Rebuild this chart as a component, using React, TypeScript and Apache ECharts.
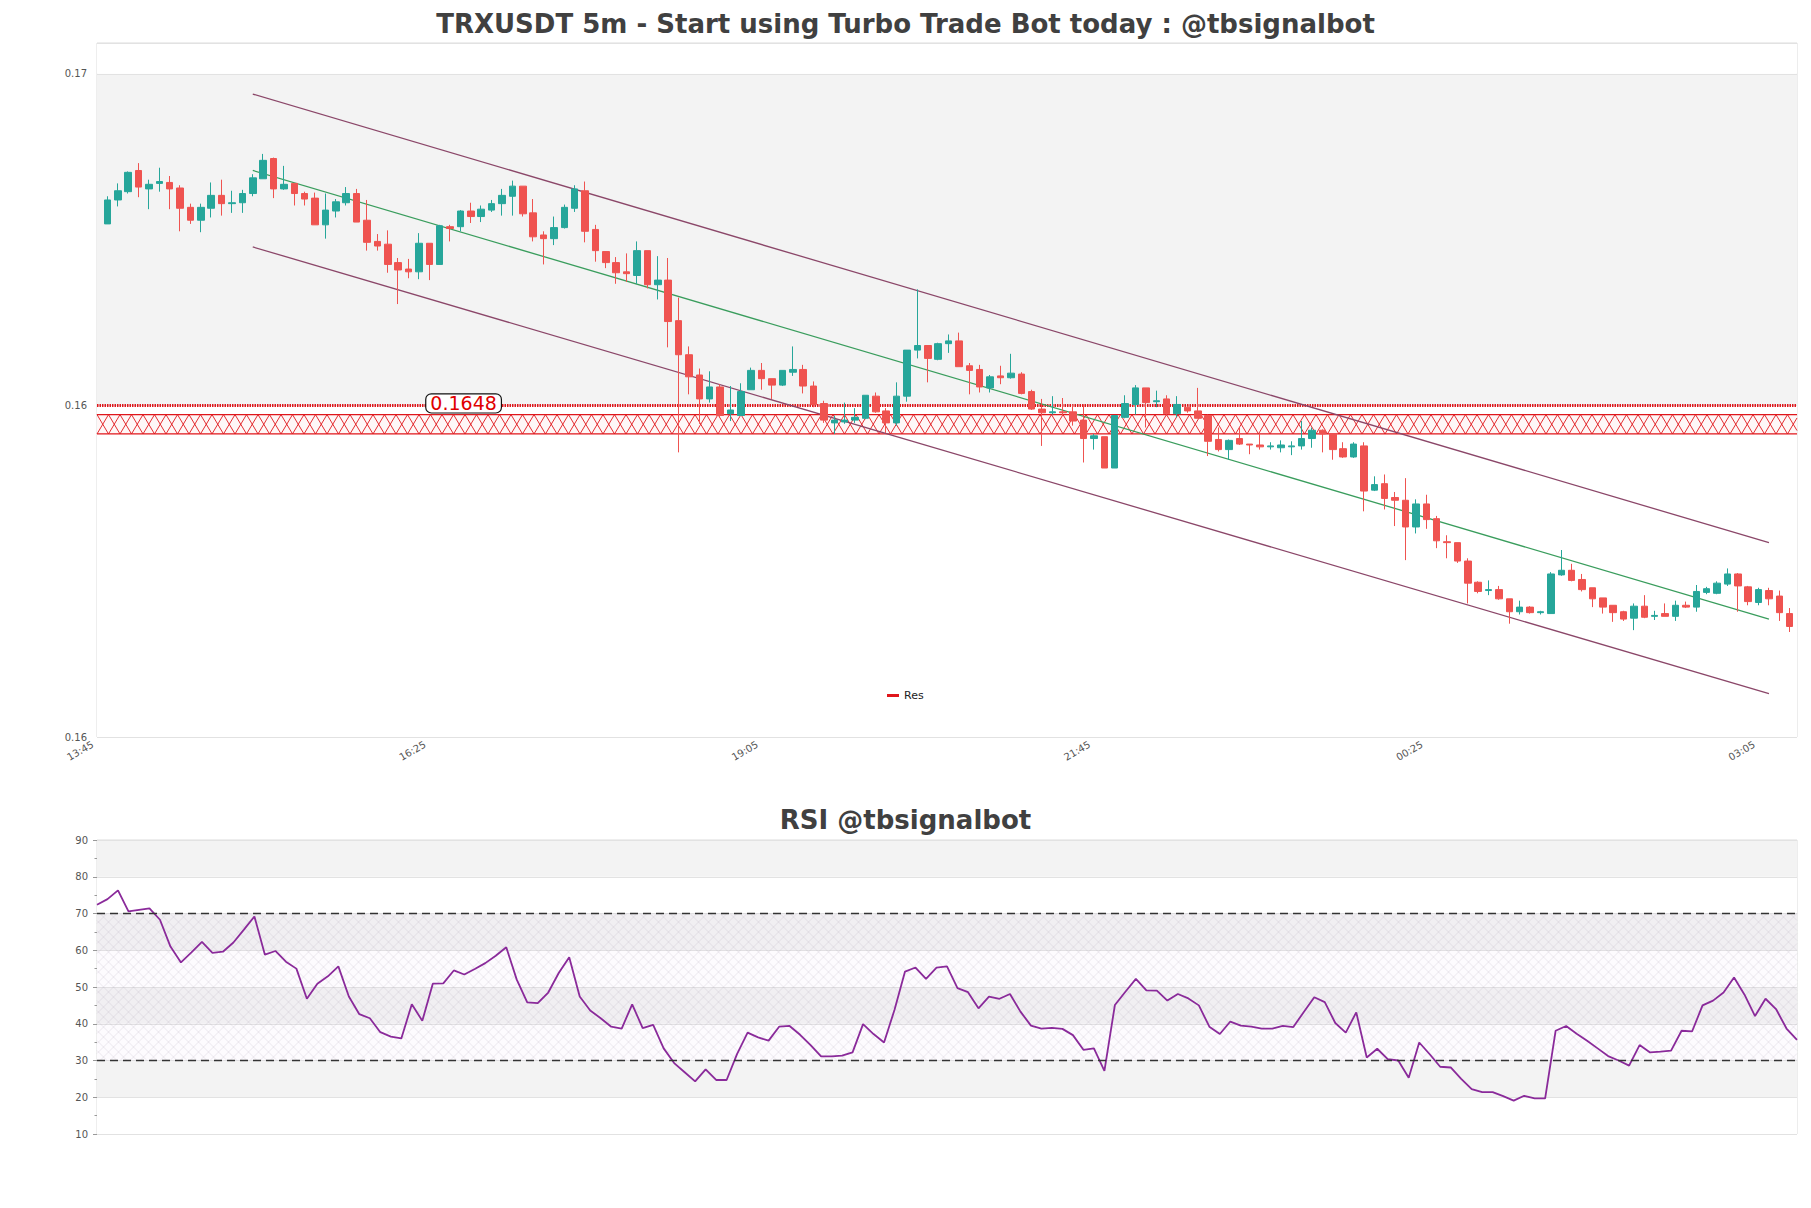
import React, { useEffect, useRef } from 'react';
import * as echarts from 'echarts';

// ---- data ----
const mainTitle = 'TRXUSDT 5m - Start using Turbo Trade Bot today : @tbsignalbot';
const rsiTitle = 'RSI @tbsignalbot';

const xTickLabels = ['13:45', '16:25', '19:05', '21:45', '00:25', '03:05'];
const xTickStep = 32; // candles between labelled ticks
const xMax = 163.7;

const yTickValues = [0.1612, 0.1648, 0.1684];
const yTickLabels = ['0.16', '0.16', '0.17'];
const yMin = 0.1612;
const yMax = 0.168734;
const yInterval = 0.0036;

// [open, close, low, high]
const candles: number[][] = [
  [0.16677, 0.16703, 0.16677, 0.16707],
  [0.16703, 0.16713, 0.16696, 0.16721],
  [0.16712, 0.16733, 0.16710, 0.16734],
  [0.16735, 0.16717, 0.16706, 0.16743],
  [0.16715, 0.16720, 0.16693, 0.16725],
  [0.16721, 0.16723, 0.16712, 0.16738],
  [0.16722, 0.16715, 0.16693, 0.16729],
  [0.16716, 0.16694, 0.16669, 0.16719],
  [0.16695, 0.16681, 0.16677, 0.16699],
  [0.16681, 0.16695, 0.16668, 0.16699],
  [0.16694, 0.16708, 0.16684, 0.16722],
  [0.16708, 0.16699, 0.16686, 0.16725],
  [0.16699, 0.16700, 0.16689, 0.16713],
  [0.16700, 0.16710, 0.16689, 0.16714],
  [0.16710, 0.16727, 0.16707, 0.16731],
  [0.16726, 0.16746, 0.16726, 0.16753],
  [0.16748, 0.16715, 0.16705, 0.16749],
  [0.16715, 0.16720, 0.16714, 0.16740],
  [0.16721, 0.16710, 0.16697, 0.16721],
  [0.16710, 0.16704, 0.16697, 0.16712],
  [0.16705, 0.16676, 0.16676, 0.16711],
  [0.16676, 0.16692, 0.16661, 0.16710],
  [0.16691, 0.16701, 0.16684, 0.16704],
  [0.16700, 0.16710, 0.16697, 0.16717],
  [0.16710, 0.16679, 0.16679, 0.16715],
  [0.16681, 0.16657, 0.16648, 0.16703],
  [0.16658, 0.16653, 0.16648, 0.16666],
  [0.16655, 0.16633, 0.16624, 0.16670],
  [0.16635, 0.16627, 0.16590, 0.16640],
  [0.16628, 0.16625, 0.16618, 0.16639],
  [0.16625, 0.16656, 0.16617, 0.16667],
  [0.16656, 0.16633, 0.16616, 0.16656],
  [0.16633, 0.16675, 0.16633, 0.16676],
  [0.16674, 0.16672, 0.16658, 0.16676],
  [0.16674, 0.16691, 0.16669, 0.16692],
  [0.16691, 0.16685, 0.16678, 0.16700],
  [0.16685, 0.16693, 0.16679, 0.16697],
  [0.16692, 0.16699, 0.16690, 0.16703],
  [0.16699, 0.16708, 0.16686, 0.16715],
  [0.16707, 0.16718, 0.16686, 0.16724],
  [0.16718, 0.16688, 0.16685, 0.16718],
  [0.16689, 0.16663, 0.16658, 0.16704],
  [0.16665, 0.16661, 0.16633, 0.16669],
  [0.16661, 0.16673, 0.16654, 0.16685],
  [0.16673, 0.16695, 0.16672, 0.16698],
  [0.16694, 0.16715, 0.16690, 0.16719],
  [0.16713, 0.16669, 0.16657, 0.16723],
  [0.16671, 0.16648, 0.16636, 0.16676],
  [0.16647, 0.16635, 0.16629, 0.16647],
  [0.16635, 0.16624, 0.16612, 0.16641],
  [0.16625, 0.16623, 0.16614, 0.16645],
  [0.16621, 0.16648, 0.16612, 0.16658],
  [0.16648, 0.16611, 0.16607, 0.16648],
  [0.16611, 0.16616, 0.16595, 0.16642],
  [0.16616, 0.16571, 0.16543, 0.16640],
  [0.16572, 0.16535, 0.16429, 0.16597],
  [0.16535, 0.16511, 0.16492, 0.16544],
  [0.16513, 0.16487, 0.16460, 0.16520],
  [0.16487, 0.16500, 0.16483, 0.16517],
  [0.16500, 0.16469, 0.16467, 0.16503],
  [0.16471, 0.16475, 0.16463, 0.16501],
  [0.16469, 0.16495, 0.16469, 0.16504],
  [0.16497, 0.16518, 0.16497, 0.16521],
  [0.16518, 0.16509, 0.16497, 0.16526],
  [0.16509, 0.16502, 0.16487, 0.16509],
  [0.16502, 0.16518, 0.16501, 0.16518],
  [0.16516, 0.16519, 0.16512, 0.16544],
  [0.16519, 0.16501, 0.16493, 0.16524],
  [0.16501, 0.16481, 0.16478, 0.16506],
  [0.16482, 0.16464, 0.16461, 0.16485],
  [0.16461, 0.16464, 0.16449, 0.16469],
  [0.16462, 0.16464, 0.16460, 0.16483],
  [0.16464, 0.16467, 0.16461, 0.16477],
  [0.16466, 0.16491, 0.16465, 0.16491],
  [0.16490, 0.16473, 0.16472, 0.16494],
  [0.16474, 0.16461, 0.16450, 0.16477],
  [0.16461, 0.16490, 0.16458, 0.16505],
  [0.16490, 0.16540, 0.16484, 0.16540],
  [0.16540, 0.16545, 0.16531, 0.16606],
  [0.16545, 0.16531, 0.16505, 0.16545],
  [0.16530, 0.16547, 0.16529, 0.16548],
  [0.16547, 0.16550, 0.16537, 0.16557],
  [0.16550, 0.16522, 0.16522, 0.16559],
  [0.16523, 0.16518, 0.16492, 0.16526],
  [0.16519, 0.16500, 0.16494, 0.16524],
  [0.16499, 0.16511, 0.16494, 0.16513],
  [0.16512, 0.16510, 0.16503, 0.16523],
  [0.16510, 0.16515, 0.16509, 0.16536],
  [0.16514, 0.16493, 0.16492, 0.16516],
  [0.16495, 0.16476, 0.16475, 0.16497],
  [0.16476, 0.16472, 0.16436, 0.16487],
  [0.16472, 0.16473, 0.16470, 0.16490],
  [0.16473, 0.16472, 0.16469, 0.16488],
  [0.16473, 0.16463, 0.16458, 0.16481],
  [0.16464, 0.16444, 0.16418, 0.16481],
  [0.16444, 0.16447, 0.16432, 0.16449],
  [0.16446, 0.16412, 0.16412, 0.16446],
  [0.16412, 0.16469, 0.16412, 0.16469],
  [0.16467, 0.16482, 0.16466, 0.16491],
  [0.16481, 0.16499, 0.16470, 0.16502],
  [0.16499, 0.16483, 0.16456, 0.16499],
  [0.16484, 0.16485, 0.16478, 0.16496],
  [0.16487, 0.16471, 0.16470, 0.16491],
  [0.16471, 0.16481, 0.16467, 0.16490],
  [0.16478, 0.16474, 0.16472, 0.16479],
  [0.16474, 0.16466, 0.16466, 0.16499],
  [0.16469, 0.16441, 0.16425, 0.16470],
  [0.16443, 0.16432, 0.16430, 0.16456],
  [0.16432, 0.16442, 0.16421, 0.16443],
  [0.16444, 0.16438, 0.16437, 0.16456],
  [0.16438, 0.16437, 0.16427, 0.16438],
  [0.16437, 0.16435, 0.16432, 0.16450],
  [0.16435, 0.16436, 0.16432, 0.16440],
  [0.16434, 0.16437, 0.16429, 0.16442],
  [0.16435, 0.16436, 0.16426, 0.16441],
  [0.16436, 0.16444, 0.16432, 0.16463],
  [0.16444, 0.16453, 0.16434, 0.16456],
  [0.16453, 0.16449, 0.16429, 0.16454],
  [0.16449, 0.16432, 0.16421, 0.16449],
  [0.16433, 0.16424, 0.16423, 0.16440],
  [0.16424, 0.16438, 0.16423, 0.16440],
  [0.16436, 0.16387, 0.16365, 0.16440],
  [0.16388, 0.16394, 0.16387, 0.16403],
  [0.16395, 0.16379, 0.16367, 0.16405],
  [0.16380, 0.16377, 0.16349, 0.16386],
  [0.16377, 0.16348, 0.16312, 0.16401],
  [0.16348, 0.16373, 0.16341, 0.16378],
  [0.16373, 0.16356, 0.16346, 0.16383],
  [0.16357, 0.16333, 0.16325, 0.16360],
  [0.16332, 0.16331, 0.16314, 0.16339],
  [0.16331, 0.16311, 0.16309, 0.16331],
  [0.16311, 0.16287, 0.16265, 0.16314],
  [0.16288, 0.16278, 0.16276, 0.16289],
  [0.16279, 0.16280, 0.16274, 0.16290],
  [0.16280, 0.16270, 0.16269, 0.16284],
  [0.16270, 0.16256, 0.16243, 0.16270],
  [0.16256, 0.16261, 0.16253, 0.16268],
  [0.16261, 0.16255, 0.16254, 0.16262],
  [0.16255, 0.16256, 0.16253, 0.16257],
  [0.16254, 0.16297, 0.16254, 0.16299],
  [0.16296, 0.16301, 0.16295, 0.16323],
  [0.16301, 0.16290, 0.16289, 0.16308],
  [0.16291, 0.16280, 0.16278, 0.16297],
  [0.16282, 0.16270, 0.16261, 0.16282],
  [0.16271, 0.16261, 0.16254, 0.16271],
  [0.16263, 0.16255, 0.16245, 0.16263],
  [0.16256, 0.16248, 0.16246, 0.16257],
  [0.16249, 0.16262, 0.16236, 0.16265],
  [0.16262, 0.16250, 0.16249, 0.16274],
  [0.16251, 0.16252, 0.16247, 0.16257],
  [0.16254, 0.16251, 0.16251, 0.16265],
  [0.16251, 0.16263, 0.16246, 0.16268],
  [0.16263, 0.16261, 0.16260, 0.16267],
  [0.16261, 0.16278, 0.16256, 0.16285],
  [0.16277, 0.16281, 0.16275, 0.16283],
  [0.16276, 0.16287, 0.16275, 0.16289],
  [0.16286, 0.16297, 0.16284, 0.16303],
  [0.16297, 0.16284, 0.16256, 0.16298],
  [0.16283, 0.16267, 0.16263, 0.16284],
  [0.16266, 0.16280, 0.16263, 0.16282],
  [0.16279, 0.16270, 0.16263, 0.16282],
  [0.16273, 0.16255, 0.16246, 0.16279],
  [0.16254, 0.16240, 0.16234, 0.16260],
];

const rsiValues: number[] = [
  72.4, 73.9, 76.3, 70.6, 71.0, 71.4, 68.3, 61.0, 56.7, 59.4,
  62.3, 59.3, 59.6, 62.1, 65.6, 69.2, 58.8, 59.8, 56.9, 55.0,
  46.8, 50.9, 52.9, 55.6, 47.4, 42.6, 41.5, 37.7, 36.5, 36.0,
  45.3, 40.8, 50.9, 51.0, 54.5, 53.4, 54.9, 56.5, 58.5, 60.8,
  52.0, 45.8, 45.6, 48.5, 53.8, 58.1, 47.4, 43.6, 41.5, 39.2,
  38.7, 45.3, 38.8, 39.7, 33.3, 29.3, 26.8, 24.3, 27.6, 24.7,
  24.7, 31.8, 37.6, 36.3, 35.4, 39.2, 39.4, 37.0, 34.2, 31.1,
  31.1, 31.3, 32.2, 39.9, 37.2, 34.9, 43.8, 54.2, 55.3, 52.2,
  55.3, 55.6, 49.7, 48.6, 44.2, 47.4, 46.8, 48.1, 43.3, 39.5,
  38.7, 38.9, 38.6, 36.9, 32.9, 33.3, 27.2, 45.1, 48.7, 52.2,
  49.1, 49.0, 46.3, 48.1, 46.9, 45.0, 39.2, 37.2, 40.6, 39.5,
  39.2, 38.7, 38.7, 39.4, 39.1, 43.2, 47.2, 45.9, 40.2, 37.6,
  43.1, 30.8, 33.2, 30.4, 30.0, 25.3, 34.9, 31.7, 28.3, 28.1,
  25.0, 22.2, 21.4, 21.4, 20.3, 19.1, 20.4, 19.7, 19.7, 38.1,
  39.4, 37.3, 35.4, 33.3, 31.2, 30.0, 28.6, 34.2, 32.2, 32.4,
  32.7, 38.1, 37.9, 45.0, 46.3, 48.5, 52.6, 47.9, 42.1, 46.8,
  44.0, 38.7, 35.6,
];

const channelUpper = [[15, 0.16818], [161, 0.16331]];
const channelMid = [[15, 0.16735], [161, 0.16248]];
const channelLower = [[15, 0.16652], [161, 0.16167]];

const resLevel = 0.1648;
const resLabel = '0.1648';
const resLabelAt = 35.3; // candle index where the price label sits
const resZone = [0.16449, 0.16470];

const rsiLevels = [30, 70];

// ---- colours ----
const UP = '#26a69a';
const DOWN = '#ef5350';
const RED = '#e0161b';
const FONT = 'DejaVu Sans';

function hatch(x0: number, y0: number, w: number, h: number, step: number, slope: number, style: any) {
  const out: any[] = [];
  const dx = h / slope;
  for (let c = x0 - dx; c <= x0 + w + 0.001; c += step) {
    const t0 = Math.max(0, x0 - c);
    const t1 = Math.min(dx, x0 + w - c);
    if (t1 > t0) out.push({ type: 'line', shape: { x1: c + t0, y1: y0 + t0 * slope, x2: c + t1, y2: y0 + t1 * slope }, style });
  }
  for (let c = x0; c <= x0 + w + dx + 0.001; c += step) {
    const t0 = Math.max(0, c - (x0 + w));
    const t1 = Math.min(dx, c - x0);
    if (t1 > t0) out.push({ type: 'line', shape: { x1: c - t0, y1: y0 + t0 * slope, x2: c - t1, y2: y0 + t1 * slope }, style });
  }
  return out;
}

export default function App() {
  const ref = useRef<HTMLDivElement>(null);
  useEffect(() => {
    if (!ref.current) return;
    const chart = echarts.init(ref.current, null, { renderer: 'svg' });

    const zoneRender = (params: any, api: any) => {
      const cs = params.coordSys;
      const yTop = api.coord([0, api.value(2)])[1];
      const yBot = api.coord([0, api.value(1)])[1];
      const h = yBot - yTop;
      const step = 11.5;
      const children = hatch(cs.x, yTop, cs.width, h, step, h / step, { stroke: RED, lineWidth: 0.9 });
      children.unshift({ type: 'rect', shape: { x: cs.x, y: yTop, width: cs.width, height: h }, style: { fill: 'rgba(240,120,120,0.06)' } });
      children.push({ type: 'line', shape: { x1: cs.x, y1: yTop, x2: cs.x + cs.width, y2: yTop }, style: { stroke: RED, lineWidth: 1.3 } });
      children.push({ type: 'line', shape: { x1: cs.x, y1: yBot, x2: cs.x + cs.width, y2: yBot }, style: { stroke: RED, lineWidth: 1.3 } });
      return { type: 'group', silent: true, children };
    };

    const rsiHatchRender = (params: any, api: any) => {
      const cs = params.coordSys;
      const yTop = api.coord([0, api.value(2)])[1];
      const yBot = api.coord([0, api.value(1)])[1];
      const h = yBot - yTop;
      const children = hatch(cs.x, yTop, cs.width, h, 10, 1, { stroke: 'rgba(160,150,175,0.35)', lineWidth: 0.55 });
      children.unshift({ type: 'rect', shape: { x: cs.x, y: yTop, width: cs.width, height: h }, style: { fill: 'rgba(215,190,230,0.06)' } });
      return { type: 'group', silent: true, children };
    };

    const channelStyle = (color: string) => ({
      type: 'line', symbol: 'none', silent: true, z: 3,
      xAxisIndex: 0, yAxisIndex: 0,
      lineStyle: { color, width: 1.3 },
    });

    const option: any = {
      animation: false,
      backgroundColor: '#ffffff',
      textStyle: { fontFamily: FONT },
      title: [
        { text: mainTitle, left: 'center', top: 6, textStyle: { fontFamily: FONT, fontWeight: 'bold', fontSize: 26, color: '#404040' } },
        { text: rsiTitle, left: 'center', top: 802, textStyle: { fontFamily: FONT, fontWeight: 'bold', fontSize: 26, color: '#404040' } },
      ],
      legend: {
        data: ['Res'], left: 882, top: 685, icon: 'rect', itemWidth: 12, itemHeight: 3, itemGap: 5,
        selectedMode: false,
        textStyle: { fontFamily: FONT, fontSize: 11, color: '#222' },
      },
      grid: [
        { left: 97, top: 43, right: 14, height: 694, show: true, borderColor: '#dcdcdc', borderWidth: 1, outerBoundsMode: 'none' },
        { left: 97, top: 840, right: 14, height: 294, show: true, borderColor: '#dcdcdc', borderWidth: 1, outerBoundsMode: 'none' },
      ],
      xAxis: [
        {
          type: 'value', gridIndex: 0, min: 0, max: xMax, interval: xTickStep,
          axisLine: { show: false }, axisTick: { show: false }, splitLine: { show: false },
          axisLabel: {
            rotate: 30, margin: 4, padding: [0, 5, 0, 0], fontSize: 10, color: '#555', fontFamily: FONT, showMaxLabel: false,
            formatter: (v: number) => {
              const k = Math.round(v / xTickStep);
              return Math.abs(v - k * xTickStep) < 1e-6 && xTickLabels[k] ? xTickLabels[k] : '';
            },
          },
        },
        {
          type: 'value', gridIndex: 1, min: 0, max: rsiValues.length - 1,
          axisLine: { show: false }, axisTick: { show: false }, axisLabel: { show: false }, splitLine: { show: false },
        },
      ],
      yAxis: [
        {
          type: 'value', gridIndex: 0, min: yMin, max: yMax, interval: yInterval,
          axisLine: { show: false }, axisTick: { show: false },
          splitLine: { show: true, lineStyle: { color: '#e2e2e2', width: 1 } },
          splitArea: { show: true, areaStyle: { color: ['#ffffff', '#f3f3f3'] } },
          axisLabel: {
            margin: 10, fontSize: 10, color: '#555', fontFamily: FONT, showMaxLabel: false,
            formatter: (v: number) => {
              const i = yTickValues.findIndex((t) => Math.abs(t - v) < 1e-7);
              return i >= 0 ? yTickLabels[i] : '';
            },
          },
        },
        {
          type: 'value', gridIndex: 1, min: 10, max: 90, interval: 10,
          axisLine: { show: false },
          axisTick: { show: true, length: 4, lineStyle: { color: '#999' } },
          minorTick: { show: true, splitNumber: 2, length: 2.5, lineStyle: { color: '#999' } },
          splitLine: { show: true, lineStyle: { color: '#e2e2e2', width: 1 } },
          splitArea: { show: true, areaStyle: { color: ['#ffffff', '#f3f3f3'] } },
          axisLabel: { margin: 9, fontSize: 10, color: '#555', fontFamily: FONT },
        },
      ],
      series: [
        {
          type: 'custom', name: 'zone', xAxisIndex: 0, yAxisIndex: 0, z: 1, silent: true,
          renderItem: zoneRender,
          data: [[0, resZone[0], resZone[1]]],
          encode: { x: 0, y: [1, 2] },
        },
        {
          type: 'line', name: 'Res', xAxisIndex: 0, yAxisIndex: 0, z: 3, symbol: 'none', silent: true,
          color: RED,
          lineStyle: { color: RED, width: 3, type: [1.5, 1] },
          data: [[0, resLevel], [xMax, resLevel]],
          markPoint: {
            silent: true, symbol: 'circle', symbolSize: 1, itemStyle: { color: 'rgba(0,0,0,0)' },
            label: {
              show: true, position: 'inside', offset: [0, -2],
              formatter: () => resLabel,
              color: '#e00000', fontSize: 19, fontFamily: FONT, lineHeight: 18,
              backgroundColor: '#ffffff', borderColor: '#111', borderWidth: 1.2, borderRadius: 5,
              padding: [0, 4, 0, 4],
            },
            data: [{ coord: [resLabelAt, resLevel] }],
          },
        },
        { ...channelStyle('#8b4769'), name: 'upper', data: channelUpper },
        { ...channelStyle('#3a9d5d'), name: 'mid', data: channelMid },
        { ...channelStyle('#8b4769'), name: 'lower', data: channelLower },
        {
          type: 'candlestick', name: 'TRXUSDT', xAxisIndex: 0, yAxisIndex: 0, z: 4, silent: true,
          barWidth: 7,
          data: candles.map((c, i) => [i + 1, c[0], c[1], c[2], c[3]]),
          encode: { x: 0, y: [1, 2, 3, 4] },
          itemStyle: { color: UP, color0: DOWN, borderColor: UP, borderColor0: DOWN, borderWidth: 1 },
        },
        {
          type: 'custom', name: 'rsiHatch', xAxisIndex: 1, yAxisIndex: 1, z: 1, silent: true,
          renderItem: rsiHatchRender,
          data: [[0, rsiLevels[0], rsiLevels[1]]],
          encode: { x: 0, y: [1, 2] },
        },
        {
          type: 'line', name: 'RSI', xAxisIndex: 1, yAxisIndex: 1, z: 4, symbol: 'none', silent: true,
          lineStyle: { color: '#8a2a9a', width: 1.8 },
          data: rsiValues.map((v, j) => [j, v]),
          markLine: {
            silent: true, symbol: 'none', label: { show: false },
            lineStyle: { color: '#333', width: 1.3, type: [8, 5] },
            data: rsiLevels.map((v) => ({ yAxis: v })),
          },
        },
      ],
    };

    chart.setOption(option);
    return () => chart.dispose();
  }, []);

  return (
    <div
      ref={ref}
      style={{ position: 'fixed', left: 0, top: 0, width: 1811, height: 1208, background: '#fff' }}
    />
  );
}
